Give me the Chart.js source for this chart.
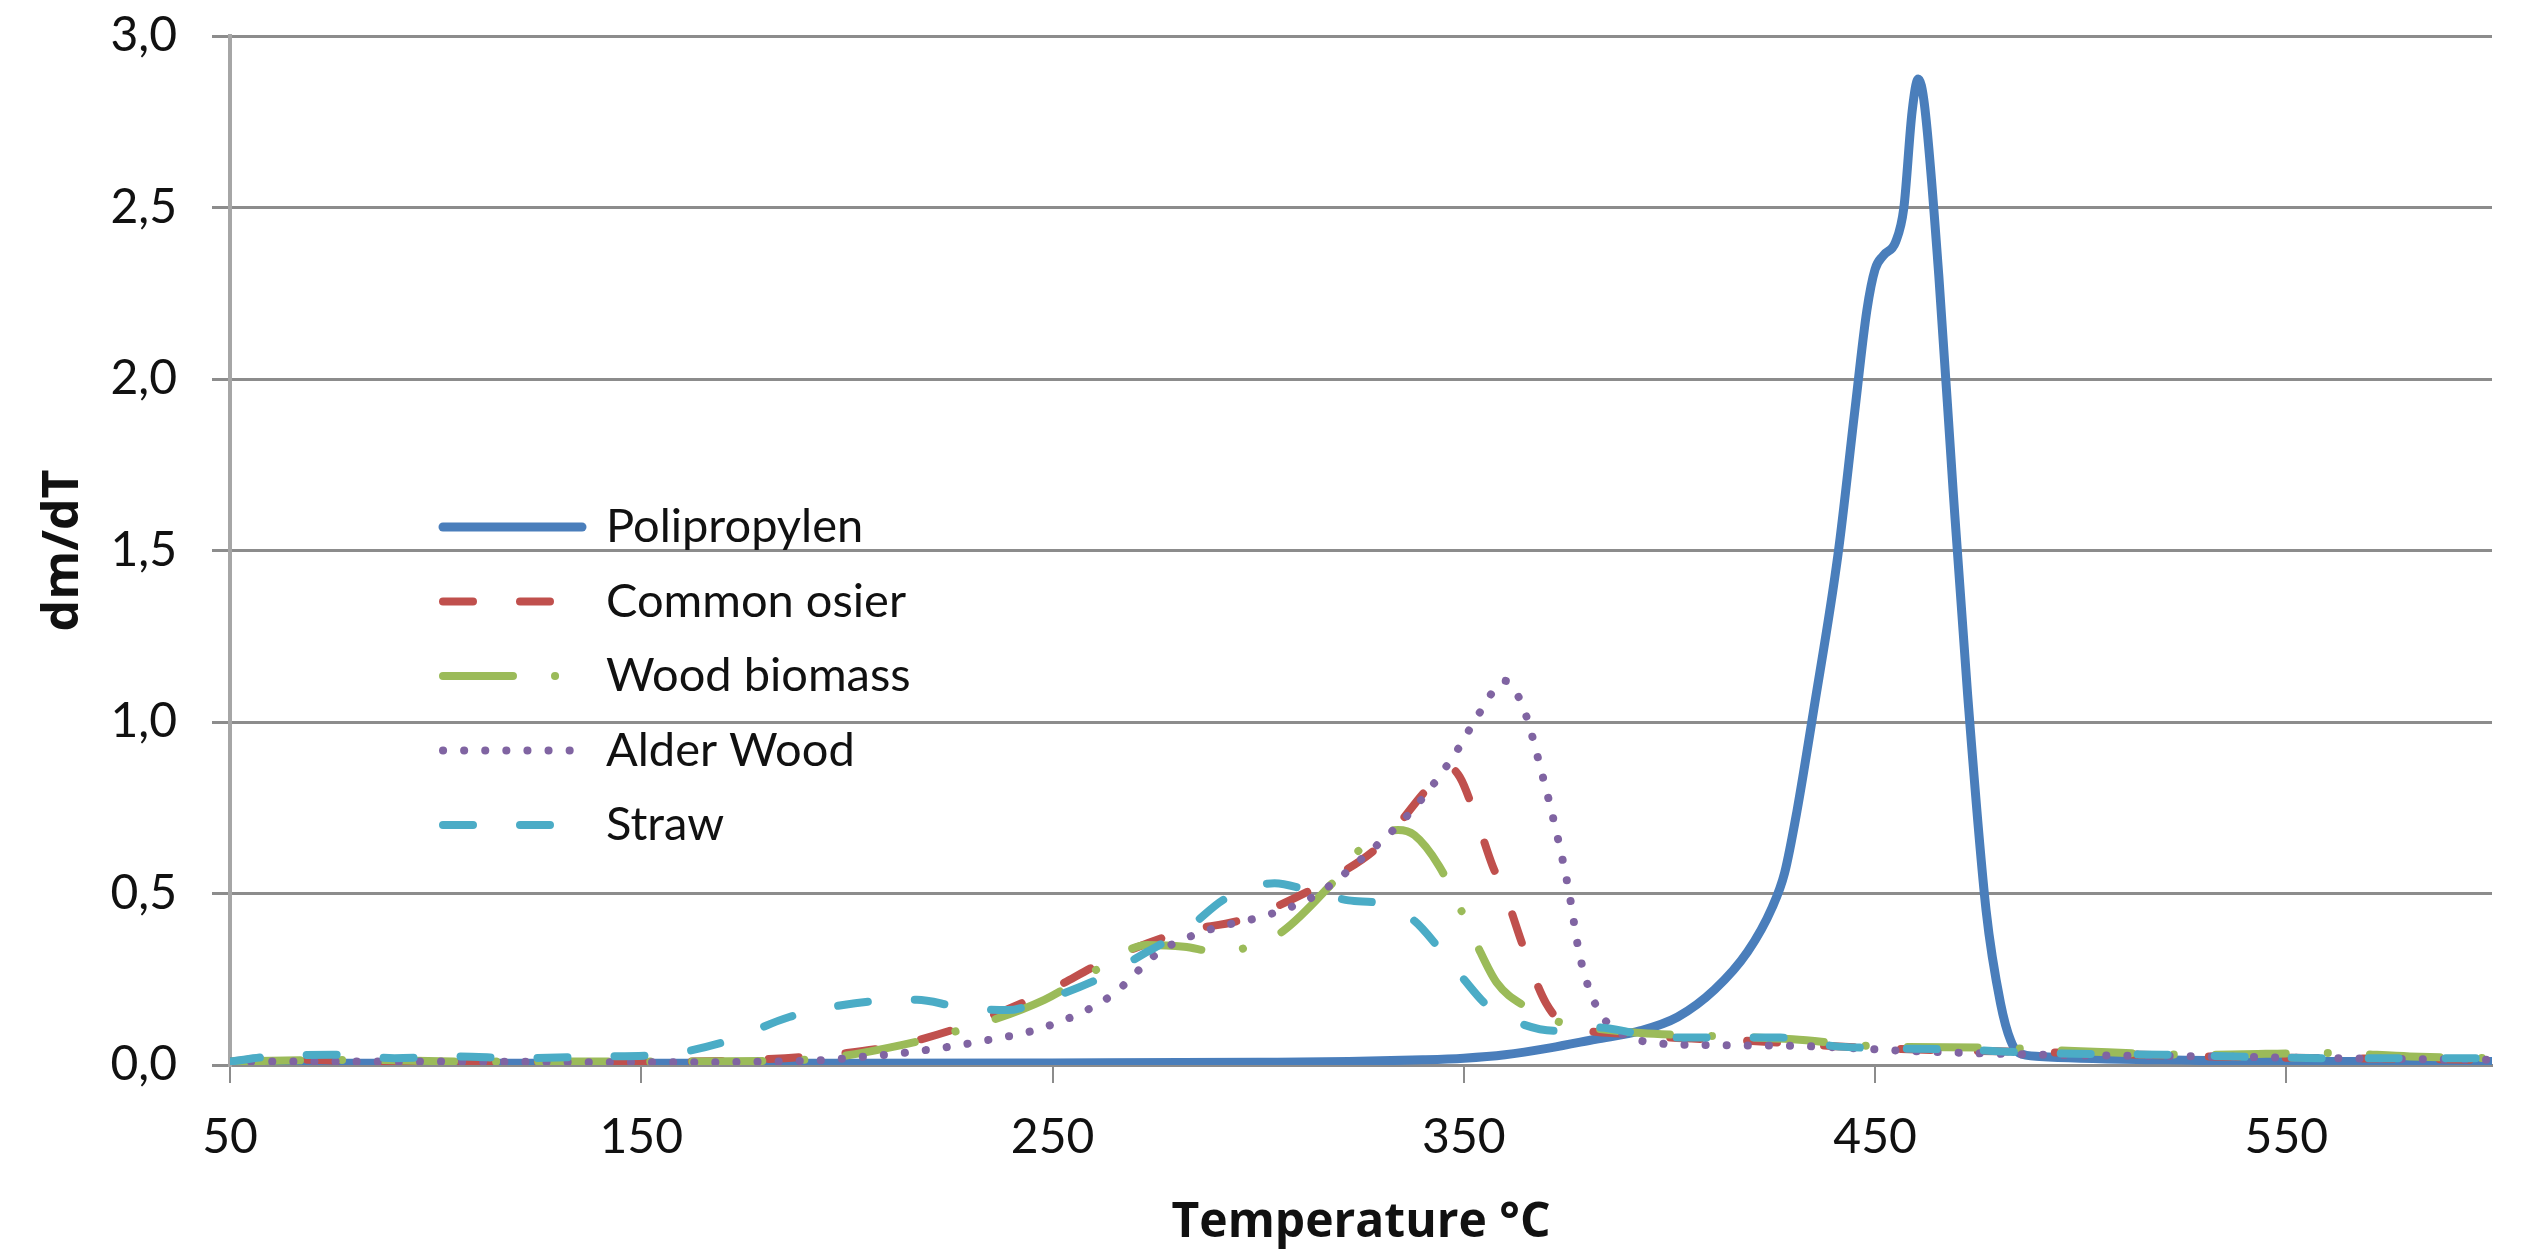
<!DOCTYPE html>
<html>
<head>
<meta charset="utf-8">
<title>dm/dT vs temperature</title>
<script src="https://cdn.jsdelivr.net/npm/chart.js@4/dist/chart.umd.min.js"></script>
<style>
  html, body { margin: 0; padding: 0; background: #fff; }
  #wrap { width: 2525px; height: 1256px; }
</style>
</head>
<body>
<div id="wrap"><canvas id="dtgChart" width="2525" height="1256"></canvas></div>
<script>
// Temperature (°C) and dm/dT readings, one pair of arrays per sample
const ppTemp = [50, 100, 150, 200, 250, 300, 322, 340, 350, 360, 371, 382, 393, 402, 411, 419, 425, 428, 431, 435, 441, 445, 448, 450, 452, 455, 457, 459, 460.5, 462, 465.5, 469, 472.5, 477, 480.5, 483, 485, 490, 520, 560, 600];
const ppVal = [0.005, 0.005, 0.005, 0.005, 0.006, 0.008, 0.01, 0.015, 0.02, 0.03, 0.05, 0.075, 0.10, 0.14, 0.22, 0.33, 0.46, 0.56, 0.74, 1.03, 1.49, 1.90, 2.20, 2.32, 2.36, 2.40, 2.50, 2.78, 2.875, 2.80, 2.30, 1.67, 1.08, 0.45, 0.18, 0.07, 0.035, 0.025, 0.015, 0.01, 0.01];

const osierTemp = [50, 60, 70, 85, 100, 120, 150, 170, 185, 200, 213, 230, 248, 264, 282, 295, 304, 318, 330, 340, 346, 349, 353, 357, 360, 364, 367, 370, 374, 380, 390, 400, 420, 440, 460, 480, 500, 530, 560, 600];
const osierVal = [0.01, 0.02, 0.015, 0.01, 0.008, 0.01, 0.01, 0.012, 0.02, 0.035, 0.06, 0.12, 0.21, 0.31, 0.39, 0.42, 0.46, 0.545, 0.645, 0.79, 0.87, 0.84, 0.72, 0.58, 0.50, 0.36, 0.26, 0.18, 0.12, 0.10, 0.09, 0.08, 0.07, 0.055, 0.045, 0.04, 0.035, 0.025, 0.02, 0.015];

const woodTemp = [50, 80, 110, 150, 180, 195, 210, 227, 248, 261, 273, 282, 290, 298, 306, 318, 327, 334, 338, 344, 349, 353, 358, 365, 372, 380, 393, 410, 430, 450, 480, 500, 530, 560, 580, 600];
const woodVal = [0.01, 0.015, 0.01, 0.01, 0.012, 0.02, 0.05, 0.10, 0.19, 0.28, 0.35, 0.345, 0.33, 0.345, 0.39, 0.53, 0.655, 0.685, 0.67, 0.58, 0.46, 0.355, 0.24, 0.17, 0.13, 0.11, 0.093, 0.085, 0.075, 0.055, 0.05, 0.04, 0.03, 0.035, 0.025, 0.02];

const alderTemp = [50, 100, 150, 190, 205, 217, 233, 248, 264, 276, 287, 303, 314, 326, 338, 348, 354, 360, 364.5, 369, 372.5, 375.5, 378, 380.5, 383, 386, 396, 410, 433, 460, 490, 530, 560, 600];
const alderVal = [0.01, 0.01, 0.008, 0.012, 0.025, 0.04, 0.07, 0.11, 0.20, 0.33, 0.39, 0.44, 0.495, 0.61, 0.75, 0.91, 1.03, 1.12, 1.04, 0.85, 0.68, 0.51, 0.33, 0.22, 0.155, 0.11, 0.065, 0.058, 0.055, 0.04, 0.03, 0.025, 0.02, 0.015];

const strawTemp = [50, 60, 75, 90, 105, 120, 140, 155, 171, 186, 202, 217, 227, 239, 248, 261, 273, 283, 292, 304, 312, 322, 330, 338, 344, 350, 356, 364, 372, 382, 392, 401, 427, 440, 448, 470, 490, 520, 560, 600];
const strawVal = [0.01, 0.025, 0.03, 0.02, 0.025, 0.02, 0.025, 0.03, 0.07, 0.14, 0.18, 0.19, 0.17, 0.16, 0.19, 0.25, 0.33, 0.40, 0.485, 0.53, 0.51, 0.48, 0.47, 0.42, 0.34, 0.25, 0.17, 0.12, 0.10, 0.11, 0.093, 0.08, 0.08, 0.055, 0.05, 0.045, 0.035, 0.03, 0.02, 0.02];

const xTicks = [50, 150, 250, 350, 450, 550];

function pts(temps, vals) {
    return temps.map((t, i) => ({ x: t, y: vals[i] }));
}

const gridGray = '#8c8c8c';

// Legend drawn by hand so the dash patterns show like the original
const sideLegend = {
    id: 'sideLegend',
    afterDatasetsDraw(chart) {
        const { ctx, chartArea } = chart;
        const x0 = chartArea.left + 208;
        const y0 = chartArea.top + 491;
        chart.data.datasets.forEach((ds, i) => {
            const y = y0 + i * 74.5;
            ctx.save();
            ctx.strokeStyle = ds.borderColor;
            ctx.lineWidth = ds.borderWidth;
            ctx.lineCap = 'round';
            ctx.setLineDash(ds.borderDash || []);
            ctx.beginPath();
            ctx.moveTo(x0 + 5, y);
            ctx.lineTo(x0 + 144, y);
            ctx.stroke();
            ctx.setLineDash([]);
            ctx.fillStyle = '#111';
            ctx.font = '47px Lato';
            ctx.textBaseline = 'middle';
            ctx.fillText(ds.label, x0 + 168, y);
            ctx.restore();
        });
    }
};

const ctx = document.getElementById('dtgChart').getContext('2d');

const dtgChart = new Chart(ctx, {
    type: 'line',
    data: {
        datasets: [
            { label: 'Polipropylen', data: pts(ppTemp, ppVal), borderColor: '#4a7ebb', borderWidth: 9, order: 5 },
            { label: 'Common osier', data: pts(osierTemp, osierVal), borderColor: '#c0504d', borderWidth: 8, borderDash: [30, 47], order: 4 },
            { label: 'Wood biomass', data: pts(woodTemp, woodVal), borderColor: '#9bbb59', borderWidth: 8, borderDash: [70, 42, 0.1, 42], order: 3 },
            { label: 'Alder Wood', data: pts(alderTemp, alderVal), borderColor: '#8064a2', borderWidth: 8, borderDash: [0.1, 21], order: 2 },
            { label: 'Straw', data: pts(strawTemp, strawVal), borderColor: '#4bacc6', borderWidth: 8, borderDash: [30, 47], order: 1 }
        ]
    },
    options: {
        responsive: false,
        animation: false,
        devicePixelRatio: 1,
        layout: { padding: { top: 36, right: 33, left: 0, bottom: 0 } },
        elements: {
            point: { radius: 0 },
            line: { cubicInterpolationMode: 'monotone', borderCapStyle: 'round', borderJoinStyle: 'round', fill: false }
        },
        plugins: {
            legend: { display: false },
            tooltip: { enabled: false }
        },
        scales: {
            x: {
                type: 'linear',
                min: 50,
                max: 600,
                afterFit: s => { s.height = 191; },
                afterBuildTicks: s => { s.ticks = xTicks.map(v => ({ value: v })); },
                grid: { drawOnChartArea: false, drawTicks: true, tickLength: 18, color: gridGray, lineWidth: 2 },
                border: { display: true, color: gridGray, width: 3 },
                ticks: { padding: 26, color: '#111', font: { family: 'Lato', size: 48 } },
                title: {
                    display: true,
                    text: 'Temperature °C',
                    color: '#111',
                    font: { family: 'Open Sans', size: 48, weight: 'bold' },
                    padding: { top: 0, bottom: 4 }
                }
            },
            y: {
                min: 0,
                max: 3,
                // fixed axis width; drop the label padding so the plot top sits at 36px
                afterFit: s => { s.width = 230; s.paddingTop = 0; s.paddingBottom = 0; },
                ticks: {
                    stepSize: 0.5,
                    padding: 35,
                    color: '#111',
                    font: { family: 'Lato', size: 48 },
                    callback: v => v.toFixed(1).replace('.', ',')
                },
                grid: { color: gridGray, lineWidth: 3, drawTicks: true, tickLength: 18 },
                border: { display: true, color: '#a6a6a6', width: 4 },
                title: {
                    display: true,
                    text: 'dm/dT',
                    color: '#111',
                    font: { family: 'Open Sans', size: 50, weight: 'bold' },
                    padding: { top: 34, bottom: 0 }
                }
            }
        }
    },
    plugins: [sideLegend]
});
</script>
</body>
</html>
